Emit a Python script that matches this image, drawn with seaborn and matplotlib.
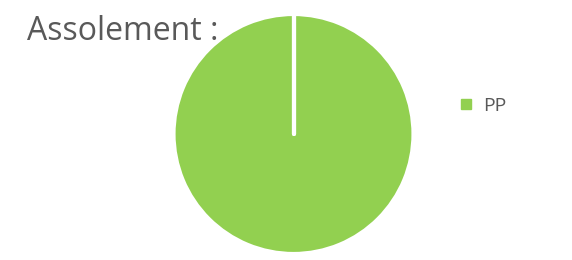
import matplotlib
matplotlib.use("Agg")
import numpy as np
import matplotlib.pyplot as plt
import seaborn as sns
from matplotlib.lines import Line2D

# Data
categories = ["PP"]
surfaces = [100]
colors = ["#92D050"]

sns.set_theme(style="white")
plt.rcParams['font.family'] = ['Open Sans', 'DejaVu Sans']

fig = plt.figure(figsize=(5.72, 2.6), dpi=100)
r_px = 120
ax = fig.add_axes([(293.5 - r_px) / 572, (260 - 134 - r_px) / 260, 2 * r_px / 572, 2 * r_px / 260])
ax.set_zorder(2)

wedges, _ = ax.pie(surfaces, colors=colors, startangle=90, counterclock=False,
                   wedgeprops={'edgecolor': 'white', 'linewidth': 3})

# slice borders (a single full slice has no radial edge drawn by matplotlib)
for w in wedges:
    cx, cy = w.center
    for ang in (w.theta1, w.theta2):
        a = np.deg2rad(ang)
        ax.plot([cx, cx + w.r * np.cos(a)], [cy, cy + w.r * np.sin(a)],
                color='white', lw=3, solid_capstyle='round')

ax.set_xlim(-1, 1)
ax.set_ylim(-1, 1)
ax.set_aspect('equal')
ax.axis('off')

fig.text(27 / 572, 1 - 40 / 260, "Assolement :", fontsize=23, color="#595959",
         ha="left", va="baseline", zorder=1)

handles = [Line2D([0], [0], marker='s', linestyle='', markersize=6.5,
                  markerfacecolor=c, markeredgecolor=c) for c in colors]
fig.legend(handles, categories, loc='center left', bbox_to_anchor=(439 / 572, 1 - 106 / 260),
           frameon=False, fontsize=14, labelcolor="#595959", handletextpad=0.35,
           handlelength=1.0)

fig.savefig("out.png", dpi=100)
